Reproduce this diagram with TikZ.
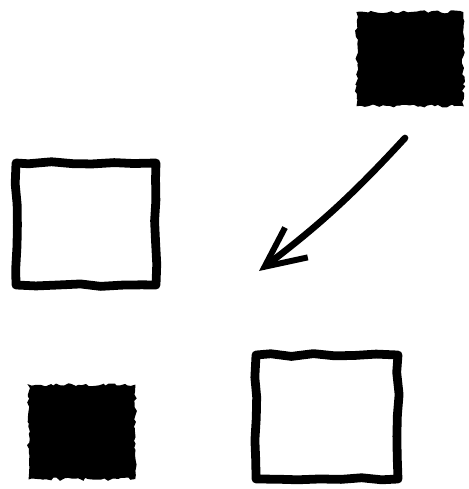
\documentclass[tikz,border=0pt]{standalone}
\usetikzlibrary{arrows.meta, decorations.pathmorphing}

\begin{document}
\begin{tikzpicture}[x=0.02cm, y=-0.02cm,
  framebox/.style={draw=black, line width=5pt, line join=round,
    minimum width=2.8cm, minimum height=2.44cm, inner sep=0pt,
    decorate, decoration={random steps, segment length=12pt, amplitude=0.8pt}},
  inkbox/.style={draw=black, fill=black, line width=1pt,
    minimum width=2.1cm, minimum height=1.85cm, inner sep=0pt,
    decorate, decoration={random steps, segment length=2pt, amplitude=0.9pt}},
  points/.style={-{Straight Barb[length=8mm, width=7.5mm, line width=3.4pt]},
    line width=3.8pt, line cap=round}
]
  \pgfmathsetseed{7}
  \useasboundingbox (0,0) rectangle (468,489);

  \node[inkbox] (topink) at (410,59) {};
  \node[framebox] (leftframe) at (86,224) {};
  \node[framebox, minimum width=2.84cm, minimum height=2.48cm] (rightframe) at (327,417) {};
  \node[inkbox] (lowink) at (82,432) {};

  \coordinate (from) at (405,138);
  \coordinate (to) at (259,271);
  \draw[points] (from) to[bend left=5] (to);
\end{tikzpicture}
\end{document}
